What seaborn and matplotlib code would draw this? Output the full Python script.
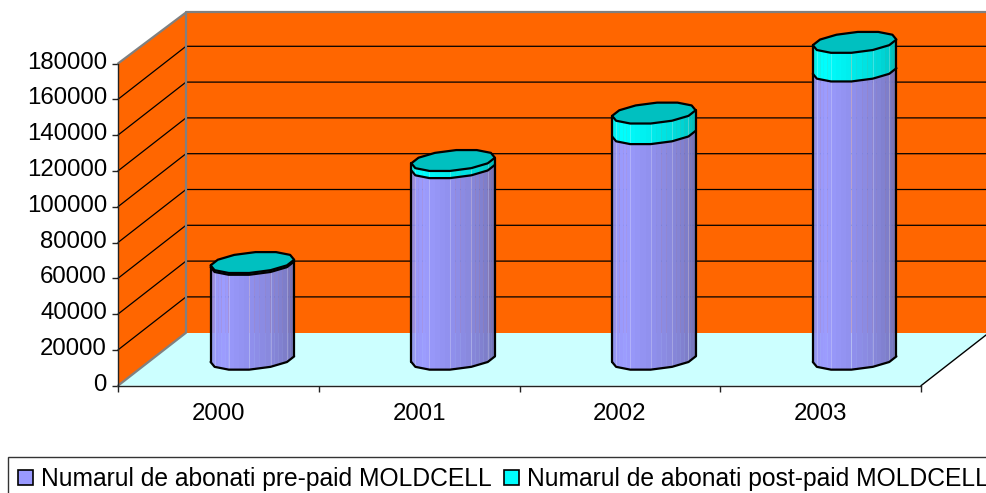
import numpy as np
import matplotlib
matplotlib.use('Agg')
import matplotlib.pyplot as plt
from matplotlib.patches import Patch
from matplotlib.ticker import FixedLocator
from matplotlib.transforms import ScaledTranslation
import seaborn as sns

years = ['2000', '2001', '2002', '2003']
pre_paid = [53000, 107000, 126000, 161000]
post_paid = [1000, 4000, 11500, 16000]
y_ticks = list(range(0, 180001, 20000))
series_names = ['Numarul de abonati pre-paid MOLDCELL', 'Numarul de abonati post-paid MOLDCELL']

sns.set_theme(style='white')
plt.rcParams['font.family'] = ['Liberation Sans', 'DejaVu Sans']

fig = plt.figure(figsize=(9.86, 4.93), dpi=100, facecolor='white')
ax = fig.add_axes([118 / 986, 1 - 385.7 / 493, 803 / 986, 322.2 / 493])
ax.patch.set_alpha(0)

# barele seaborn dau pozitiile, apoi le desenam ca cilindri
sns.barplot(x=years, y=pre_paid, width=0.394, color='#9999FF', ax=ax)
sns.barplot(x=years, y=post_paid, bottom=pre_paid, width=0.394, color='#00FFFF', ax=ax)
bars = list(ax.patches)
ax.set_xlim(-0.5, 3.5)
ax.set_ylim(0, 180000)

# adancimea graficului 3D, in unitatile axelor
depth_x = 68 / 200.75
depth_y = 53 / 35.8 * 20000
depth_half = 0.204


def wall_point(x, y, d):
    return x + d * depth_x, y + d * depth_y


# pereti si podea
x0, x1 = -0.5, 3.5
y_top = 178900
corners_left = [wall_point(x0, 0, 0), wall_point(x0, 0, 1), wall_point(x0, y_top, 1), wall_point(x0, 180000, 0)]
corners_back = [wall_point(x0, 0, 1), wall_point(x1, 0, 1), wall_point(x1, y_top, 1), wall_point(x0, y_top, 1)]
corners_floor = [wall_point(x0, 0, 0), wall_point(x1, 0, 0), wall_point(x1, 0, 1), wall_point(x0, 0, 1)]
ax.fill(*zip(*corners_floor), color='#CCFFFF', lw=0, clip_on=False, zorder=1)
ax.fill(*zip(*corners_left), color='#FF6600', lw=0, clip_on=False, zorder=1)
ax.fill(*zip(*corners_back), color='#FF6600', lw=0, clip_on=False, zorder=1)

for tick in y_ticks[1:-1]:
    xs, ys = zip(wall_point(x0, tick, 0), wall_point(x0, tick, 1), wall_point(x1, tick, 1))
    ax.plot(xs, ys, color='black', lw=0.9, clip_on=False, zorder=2)

gray_lines = [
    [wall_point(x0, 0, 0), wall_point(x0, 0, 1), wall_point(x0, y_top, 1), wall_point(x0, 180000, 0)],
    [wall_point(x0, y_top, 1), wall_point(x1, y_top, 1)],
]
for line in gray_lines:
    ax.plot(*zip(*line), color='#808080', lw=1.6, clip_on=False, zorder=2)
ax.plot(*zip(wall_point(x1, 0, 0), wall_point(x1, 0, 1)), color='black', lw=1, clip_on=False, zorder=2)

pre_colors = sns.blend_palette(['#9090E8', '#9C9CFF', '#9090EE', '#8484D4', '#7070B4'], 24)
post_colors = sns.blend_palette(['#00F0F0', '#00FFFF', '#00ECEC', '#00D8D8', '#00B8B8'], 24)


def ring(center, half_width, value, angles_deg):
    # conturul bazei cilindrului
    angles = np.radians(angles_deg)
    xs = center + depth_x / 2 + half_width * np.cos(angles) + depth_half * depth_x * np.sin(angles)
    ys = value + depth_y / 2 + depth_half * depth_y * np.sin(angles)
    return xs, ys


# cilindrul din original are 12 laturi
cap_angles = np.arange(15, 360, 30)
side_angles = np.arange(15, -166, -30)


def draw_cylinder(center, half_width, low, high, colors, cap=None):
    xb, yb = ring(center, half_width, low, side_angles)
    xt, yt = ring(center, half_width, high, side_angles)
    # fiecare latura vizibila e impartita in fasii pentru umbrire
    n_strips = len(colors)
    for k in range(n_strips):
        frac = np.array([k, k + 1]) / n_strips * (len(side_angles) - 1)
        xl = np.interp(frac, range(len(side_angles)), xb)
        yl = np.interp(frac, range(len(side_angles)), yb)
        yh = np.interp(frac, range(len(side_angles)), yt)
        col = colors[n_strips - 1 - k]
        ax.fill([xl[0], xl[1], xl[1], xl[0]], [yl[0], yl[1], yh[1], yh[0]],
                facecolor=col, edgecolor=col, lw=0.3, clip_on=False, zorder=3)
    for i in range(1, len(side_angles) - 1):
        ax.plot([xb[i], xt[i]], [yb[i], yt[i]], color='white', alpha=0.25, lw=0.7, clip_on=False, zorder=3.5)
    ax.plot(xb, yb, color='black', lw=1.6, clip_on=False, zorder=4, solid_joinstyle='round')
    for i in (0, -1):
        ax.plot([xb[i], xt[i]], [yb[i], yt[i]], color='black', lw=1.6, clip_on=False, zorder=4)
    if cap is not None:
        xc, yc = ring(center, half_width, high, cap_angles)
        ax.fill(xc, yc, facecolor=cap, edgecolor='black', lw=1.6, clip_on=False, zorder=5, joinstyle='round')


n_years = len(years)
for idx, bar in enumerate(bars):
    bar.set_visible(False)
    center = bar.get_x() + bar.get_width() / 2
    low = bar.get_y()
    high = low + bar.get_height()
    if idx < n_years:
        draw_cylinder(center, bar.get_width() / 2, low, high, pre_colors)
    else:
        draw_cylinder(center, bar.get_width() / 2, low, high, post_colors, cap='#00C0C0')

# axe
sns.despine(ax=ax, top=True, right=True)
for side in ('left', 'bottom'):
    ax.spines[side].set_color('#222222')
    ax.spines[side].set_linewidth(1)
    ax.spines[side].set_zorder(6)
ax.set_yticks(y_ticks)
ax.set_yticklabels([str(t) for t in y_ticks])
ax.set_xticks([-0.5, 0.5, 1.5, 2.5, 3.5])
ax.set_xticklabels([])
ax.xaxis.set_minor_locator(FixedLocator(range(n_years)))
ax.set_xticklabels(years, minor=True)
ax.tick_params(axis='y', length=4, width=1, color='#222222', left=True, pad=4, labelsize=17.3, labelcolor='black')
ax.tick_params(axis='x', which='major', length=4, width=1, color='#222222', bottom=True)
ax.tick_params(axis='x', which='minor', length=0, pad=12.5, labelsize=17.3, labelcolor='black')
ax.grid(False)

# etichetele Y stau putin mai sus decat gradatiile
shift_up = ScaledTranslation(0, 2.5 / 72, fig.dpi_scale_trans)
for label in ax.get_yticklabels():
    label.set_transform(label.get_transform() + shift_up)

handles = [Patch(facecolor='#9999FF', edgecolor='black', lw=1.2),
           Patch(facecolor='#00FFFF', edgecolor='black', lw=1.2)]
leg = fig.legend(handles, series_names, ncol=2, loc='upper left', bbox_to_anchor=(8 / 986, 1 - 457 / 493),
                 borderaxespad=0, fancybox=False, framealpha=1, edgecolor='#333333', fontsize=17.7,
                 handlelength=0.6, handleheight=0.6, handletextpad=0.33, columnspacing=0.5,
                 borderpad=0.41, labelcolor='black')
leg.get_frame().set_linewidth(1)

fig.savefig('out.png', dpi=100)
